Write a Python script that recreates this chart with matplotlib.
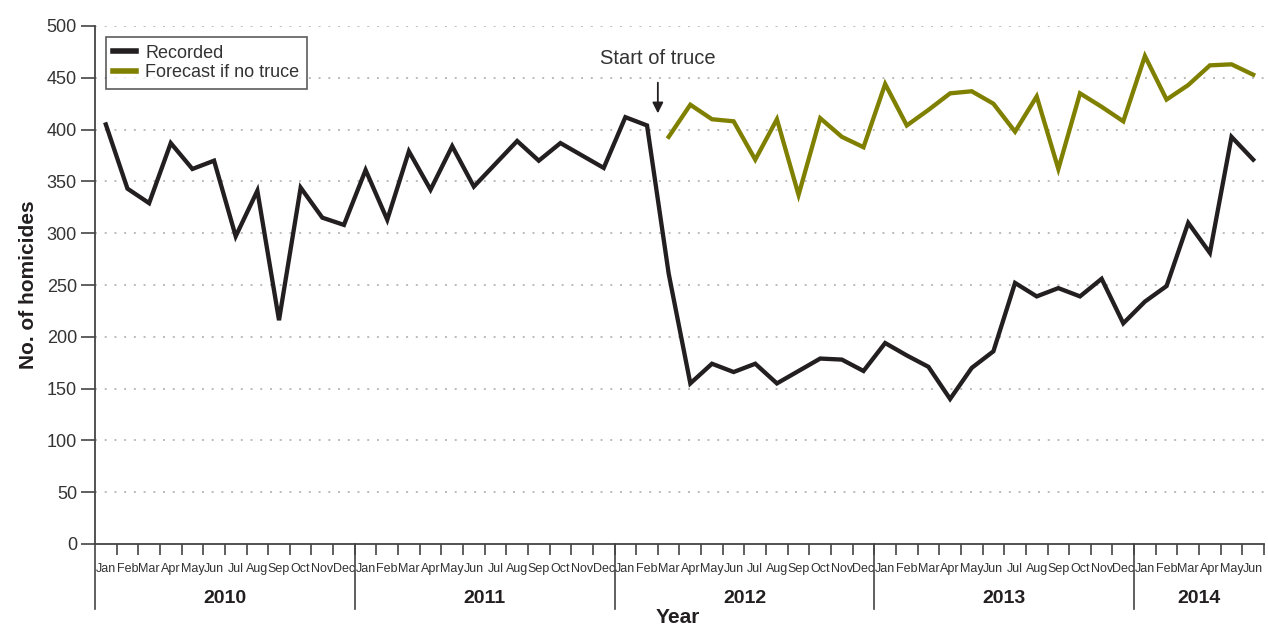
import matplotlib
matplotlib.use("Agg")
import matplotlib.pyplot as plt
import matplotlib.transforms as mtransforms
import numpy as np

months = ["Jan", "Feb", "Mar", "Apr", "May", "Jun", "Jul", "Aug", "Sep", "Oct", "Nov", "Dec"]
years = ["2010", "2011", "2012", "2013", "2014"]
months_per_year = [12, 12, 12, 12, 6]

recorded = [405, 343, 329, 387, 362, 370, 297, 341, 216, 344, 315, 308,
            361, 313, 379, 342, 384, 345, 367, 389, 370, 387, 375, 363,
            412, 404, 261, 155, 174, 166, 174, 155, 167, 179, 178, 167,
            194, 182, 171, 140, 170, 186, 252, 239, 247, 239, 256, 213,
            234, 249, 310, 281, 393, 371]

forecast_start = 26  # Mar 2012
forecast = [393, 424, 410, 408, 371, 410, 337, 411, 393, 383,
            444, 404, 419, 435, 437, 425, 398, 432, 362, 435, 422, 408,
            471, 429, 443, 462, 463, 453]

plt.rcParams['font.family'] = ['Liberation Sans', 'DejaVu Sans']
narrow = ['DejaVu Sans Condensed', 'Liberation Sans Narrow', 'Liberation Sans']

fig = plt.figure(figsize=(12.68, 6.27), dpi=100)
ax = fig.add_axes([95/1268, 1 - 544/627, (1264 - 95)/1268, (544 - 26)/627])

n = len(recorded)
x_rec = np.arange(n) + 0.5
x_fc = np.arange(forecast_start, forecast_start + len(forecast)) + 0.5

black = '#231f20'
olive = '#808000'
ax.plot(x_rec, recorded, color=black, lw=3.1, solid_joinstyle='miter', label='Recorded', zorder=3)
ax.plot(x_fc, forecast, color=olive, lw=3.1, solid_joinstyle='miter', label='Forecast if no truce', zorder=3)

ax.set_xlim(0, n)
ax.set_ylim(0, 500)
ax.set_yticks(np.arange(0, 501, 50))
ax.tick_params(axis='y', length=10, width=1.2, color='#444444', labelsize=13, labelcolor='#333333', pad=3)
for v in np.arange(50, 501, 50):
    ax.axhline(v, color='#bbbbbb', lw=1.4, ls=(0, (1, 4)), zorder=1)

for s in ['top', 'right']:
    ax.spines[s].set_visible(False)
ax.spines['left'].set_color('#444444')
ax.spines['left'].set_linewidth(1.3)
ax.spines['bottom'].set_color('#444444')
ax.spines['bottom'].set_linewidth(1.3)

# month ticks at boundaries
ax.set_xticks(np.arange(1, n + 1))
ax.set_xticklabels([])
ax.tick_params(axis='x', length=8, width=1.2, color='#444444')

trans = mtransforms.blended_transform_factory(ax.transData, ax.transAxes)
labels = []
for y, cnt in zip(years, months_per_year):
    labels += months[:cnt]
for i, lab in enumerate(labels):
    ax.text(i + 0.5, -0.048, lab, transform=trans, ha='center', va='center',
            fontsize=9, color='#333333', family=narrow)

start = 0
for y, cnt in zip(years, months_per_year):
    ax.plot([start, start], [0, -0.125], transform=trans, color='#444444', lw=1.2, clip_on=False)
    ax.text(start + cnt / 2, -0.105, y, transform=trans, ha='center', va='center',
            fontsize=14, fontweight='bold', color='#231f20')
    start += cnt

ax.text((678 - 95) / 21.65, -0.142, 'Year', transform=trans, ha='center', va='center',
        fontsize=15, fontweight='bold', color='#231f20')
ax.set_ylabel('No. of homicides', fontsize=15, fontweight='bold', color='#231f20', labelpad=6)

ax.annotate('', xy=(forecast_start, 413), xytext=(forecast_start, 448),
            arrowprops=dict(arrowstyle='-|>', color=black, lw=1.3, mutation_scale=16))
ax.text(forecast_start, 469, 'Start of truce', ha='center', va='center', fontsize=14.5, color='#333333')

leg = ax.legend(loc='upper left', bbox_to_anchor=(0.009, 0.978), fontsize=13, frameon=True,
                fancybox=False, edgecolor='#333333', handlelength=1.3, handletextpad=0.5,
                borderpad=0.4, labelspacing=0.15, borderaxespad=0)
leg.get_frame().set_linewidth(1.2)
for line in leg.get_lines():
    line.set_linewidth(4)
for t in leg.get_texts():
    t.set_color('#333333')

fig.savefig('out.png', dpi=100)
